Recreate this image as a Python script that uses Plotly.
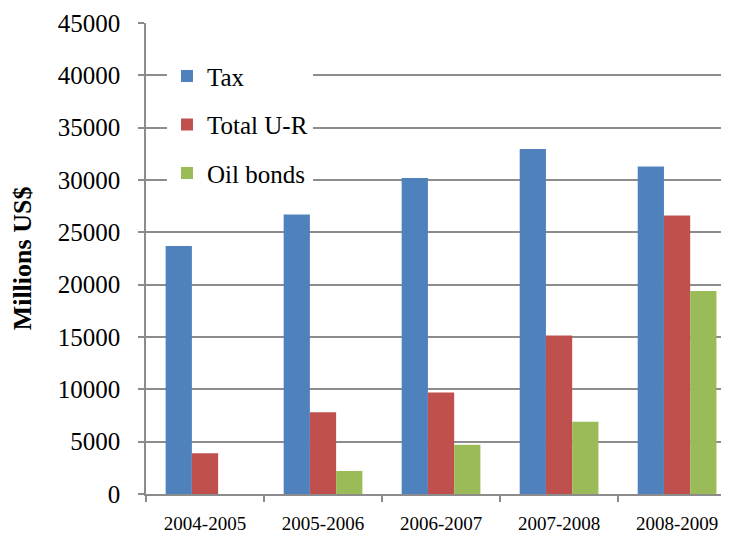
import plotly.graph_objects as go

categories = ["2004-2005", "2005-2006", "2006-2007", "2007-2008", "2008-2009"]
tax = [23700, 26700, 30200, 32950, 31300]
total_ur = [3900, 7800, 9700, 15150, 26600]
oil_bonds = [0, 2200, 4700, 6900, 19400]
y_ticks = list(range(0, 45001, 5000))

series = [
    ("Tax", tax, "#4F81BD"),
    ("Total U-R", total_ur, "#C0504D"),
    ("Oil bonds", oil_bonds, "#9BBB59"),
]

fig = go.Figure()
for i, (name, vals, color) in enumerate(series):
    fig.add_trace(go.Bar(
        x=categories, y=vals, name=name,
        marker=dict(color=color, line=dict(width=0)),
        legendgroup=f"g{i}",
    ))

FONT = "Liberation Serif"
AX = "#8C8C8C"

fig.update_layout(
    width=721, height=529,
    margin=dict(l=138, r=0, t=15, b=43),
    paper_bgcolor="white", plot_bgcolor="white",
    barmode="group", bargap=0.333, bargroupgap=0,
    font=dict(family=FONT, color="black"),
    showlegend=True,
    legend=dict(
        x=0.036, y=0.936, xanchor="left", yanchor="top",
        bgcolor="white", borderwidth=0,
        font=dict(family=FONT, size=25, color="black"),
        traceorder="grouped", tracegroupgap=13,
    ),
    xaxis=dict(
        type="category", range=[-0.5, 4.44],
        showline=True, linecolor=AX, linewidth=1.5,
        ticks="outside", ticklen=6, tickcolor=AX, tickwidth=1.5,
        tickson="boundaries",
        tickfont=dict(family=FONT, size=19, color="black"),
        ticklabelstandoff=11,
        showgrid=False, automargin=False,
    ),
    yaxis=dict(
        range=[0, 45000], tickvals=y_ticks, ticktext=[str(v) for v in y_ticks],
        showline=True, linecolor=AX, linewidth=1.5,
        ticks="outside", ticklen=6, tickcolor=AX, tickwidth=1.5,
        showgrid=True, gridcolor=AX, gridwidth=1.5,
        tickfont=dict(family=FONT, size=25, color="black"),
        ticklabelstandoff=13,
        title=dict(text="<b>Millions US$</b>", font=dict(family=FONT, size=26, color="black"), standoff=20),
        zeroline=False, automargin=False,
    ),
)

fig.write_html("out.html")
